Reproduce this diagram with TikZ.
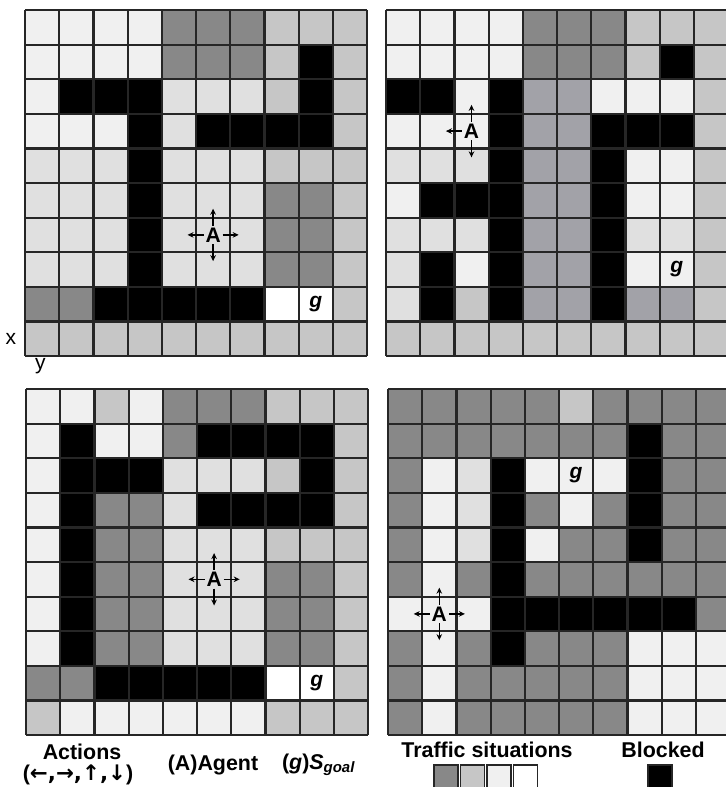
\documentclass[tikz,border=0pt]{standalone}
\usepackage{fontspec}
\setmainfont{Liberation Sans}
\newfontfamily\arrowfont{DejaVu Sans}
\usetikzlibrary{arrows.meta}

\definecolor{cL}{HTML}{F0F0F0}
\definecolor{cM}{HTML}{E0E0E0}
\definecolor{cS}{HTML}{C6C6C6}
\definecolor{cG}{HTML}{A2A2A8}
\definecolor{cD}{HTML}{888888}
\definecolor{cB}{HTML}{000000}
\definecolor{cW}{HTML}{FFFFFF}
\definecolor{gridline}{HTML}{262626}

\tikzset{
  map/.style={x=17.1pt, y=-17.3pt},
  cellline/.style={draw=gridline, line width=1.1pt},
  agent/.style={font=\bfseries\fontsize{10.5}{11}\selectfont, inner sep=0.8pt},
  goal/.style={font=\bfseries\itshape\fontsize{10.5}{11}\selectfont},
  act/.style={-{Stealth[length=3pt,width=2.8pt]}, line width=0.65pt},
  legend/.style={font=\bfseries\fontsize{10.7}{12}\selectfont},
  axis/.style={font=\fontsize{10.5}{12}\selectfont},
  swatch/.style={draw=gridline, line width=0.8pt, minimum width=12pt, minimum height=13pt, inner sep=0pt}
}

\newcommand{\fillcells}[1]{%
  \foreach \row [count=\j from 0] in {#1} {
    \foreach \tone [count=\i from 0] in \row {
      \fill[fill=c\tone] (\i,\j) rectangle ++(1,1);
    }
  }
  \foreach \i in {0,...,10} {
    \draw[cellline] (\i,0) -- (\i,10);
    \draw[cellline] (0,\i) -- (10,\i);
  }
}

\newcommand{\agentat}[3]{%
  \node[agent] (#1) at #2 {A};
  \foreach \d/\dx/\dy in {#3} {
    \coordinate (#1-\d) at ([shift={(\dx pt,\dy pt)}]#1.\d);
    \draw[act] (#1.\d) -- (#1-\d);
  }
}

\begin{document}
\begin{tikzpicture}[x=0.5pt, y=-0.5pt]
\useasboundingbox (0,0) rectangle (725,787);

\begin{scope}[shift={(25,10)}, map]
\fillcells{{L,L,L,L,D,D,D,S,S,S},{L,L,L,L,D,D,D,S,B,S},{L,B,B,B,M,M,M,S,B,S},{L,L,L,B,M,B,B,B,B,S},{M,M,M,B,M,M,M,S,S,S},{M,M,M,B,M,M,M,D,D,S},{M,M,M,B,M,M,M,D,D,S},{M,M,M,B,M,M,M,D,D,S},{D,D,B,B,B,B,B,W,W,S},{S,S,S,S,S,S,S,S,S,S}}
\agentat{a1}{(5.5,6.5)}{west/-8/0,east/8/0,north/0/8.5,south/0/-8.5}
\node[goal] (g1) at (8.5,8.5) {g};
\node[axis, left] (xlab) at (-0.05,9.5) {x};
\node[axis] (ylab) at (0.45,10.3) {y};
\end{scope}

\begin{scope}[shift={(386,10)}, map]
\fillcells{{L,L,L,L,D,D,D,S,S,S},{L,L,L,L,D,D,D,S,B,S},{B,B,L,B,G,G,L,L,L,S},{L,L,L,B,G,G,B,B,B,S},{M,M,M,B,G,G,B,L,L,S},{L,B,B,B,G,G,B,L,L,S},{M,M,M,B,G,G,B,M,M,S},{M,B,L,B,G,G,B,L,L,S},{M,B,S,B,G,G,B,G,G,S},{S,S,S,S,S,S,S,S,S,S}}
\agentat{a2}{(2.5,3.5)}{west/-8/0,north/0/8.5,south/0/-8.5}
\node[goal] (g2) at (8.5,7.5) {g};
\end{scope}

\begin{scope}[shift={(26,389)}, map]
\fillcells{{L,L,S,L,D,D,D,S,S,S},{L,B,L,L,D,B,B,B,B,S},{L,B,B,B,M,M,M,S,B,S},{L,B,D,D,M,B,B,B,B,S},{L,B,D,D,M,M,M,S,S,S},{L,B,D,D,M,M,M,D,D,S},{L,B,D,D,M,M,M,D,D,S},{L,B,D,D,M,M,M,D,D,S},{D,D,B,B,B,B,B,W,W,S},{S,L,L,L,L,L,L,S,S,S}}
\agentat{a3}{(5.5,5.5)}{west/-8/0,east/8/0,north/0/8.5,south/0/-8.5}
\node[goal] (g3) at (8.5,8.5) {g};
\end{scope}

\begin{scope}[shift={(388,389)}, map]
\fillcells{{D,D,D,D,D,S,D,D,D,D},{D,D,D,D,D,D,D,B,D,D},{D,L,M,B,L,L,L,B,D,D},{D,L,M,B,D,L,D,B,D,D},{D,L,M,B,L,D,D,B,D,D},{D,L,D,B,D,D,D,D,D,D},{L,L,L,B,B,B,B,B,B,D},{D,L,D,B,D,D,D,L,L,L},{D,L,D,D,D,D,D,L,L,L},{D,L,D,D,D,D,D,L,L,L}}
\agentat{a4}{(1.5,6.5)}{west/-8/0,east/8/0,north/0/8.5,south/0/-8.5}
\node[goal] (g4) at (5.5,2.5) {g};
\end{scope}

\node[legend] (actions) at (82,752) {Actions};
\node[legend] (actlist) at (78,775) {({\arrowfont ←,→,↑,↓})};
\node[legend] (agentkey) at (213,765) {(A)Agent};
\node[legend, anchor=west] (goalkey) at (275,765) {(\textit{g})\textit{S}\textsubscript{\textit{goal}}};
\node[legend] (traffic) at (487,750) {Traffic situations};
\node[legend] (blocked) at (663,750) {Blocked};

\node[swatch, fill=cD] (t1) at (446,778) {};
\node[swatch, fill=cS] (t2) at (472.5,778) {};
\node[swatch, fill=cL] (t3) at (499,778) {};
\node[swatch, fill=cW] (t4) at (525.5,778) {};
\node[swatch, fill=cB] (b1) at (660,778) {};
\end{tikzpicture}
\end{document}
